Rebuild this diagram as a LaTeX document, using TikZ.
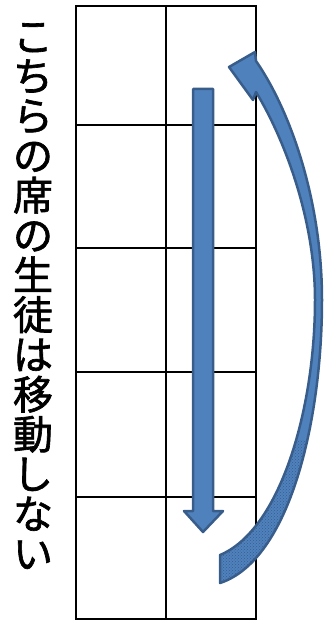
\documentclass[tikz,border=0pt]{standalone}
\usepackage{fontspec}
\usetikzlibrary{patterns}
\newfontfamily\jpfont{Noto Sans CJK JP}[FakeBold=1.6]
\definecolor{arrowfill}{HTML}{4F81BD}
\definecolor{arrowline}{HTML}{385D8A}
\tikzset{
  gridline/.style={black,line width=2pt},
  blockarrow/.style={fill=arrowfill,draw=arrowline,line width=2.5pt,line join=round},
}
\begin{document}
\begin{tikzpicture}[x=1pt,y=-1pt]
      \useasboundingbox (0,0) rectangle (324,620);
      % seat grid
      \coordinate (tl) at (76,6);
      \coordinate (br) at (256,619);
      \draw[gridline] (tl) rectangle (br);
      \draw[gridline] (166,6) -- (166,619);
      \foreach \y in {125,248,372,497}
        \draw[gridline] (76,\y) -- (256,\y);
      % label
      \node[font=\jpfont\fontsize{40}{39.8}\selectfont,align=center,inner sep=0pt]
        (label) at (33,296) {こ\\ち\\ら\\の\\席\\の\\生\\徒\\は\\移\\動\\し\\な\\い};
      % straight arrow down
      \draw[blockarrow] (193,89) -- (213,89) -- (213,511) -- (223,511)
        -- (203,532) -- (184,511) -- (193,511) -- cycle;
      % curved arrow back up
      \def\backband{(229,67) -- (255,52) -- (256,61)
        .. controls (290,110) and (322,200) .. (322,300)
        .. controls (322,420) and (290,560) .. (220,583)
        -- (220,555)
        .. controls (280,530) and (315,410) .. (315,300)
        .. controls (315,220) and (285,140) .. (256,92)
        -- (253,100) -- cycle}
      \fill[arrowfill] \backband;
      \begin{scope}
        \clip (200,440) rectangle (330,600);
        \fill[pattern=crosshatch dots,pattern color=arrowline] \backband;
      \end{scope}
      \draw[arrowline,line width=2.5pt,line join=round] \backband;
\end{tikzpicture}
\end{document}
